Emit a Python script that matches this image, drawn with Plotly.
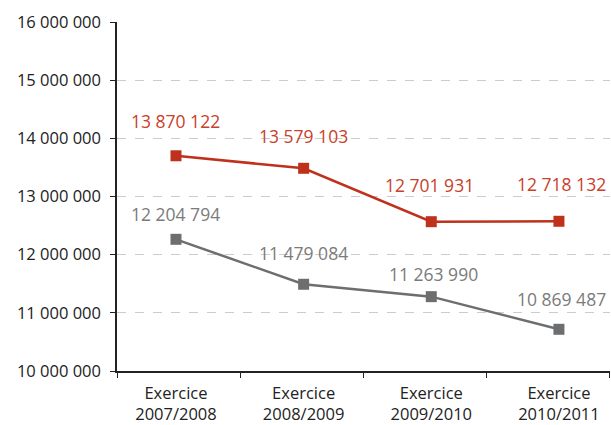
import plotly.graph_objects as go

categories = ["Exercice<br>2007/2008", "Exercice<br>2008/2009", "Exercice<br>2009/2010", "Exercice<br>2010/2011"]
red_values = [13700000, 13485000, 12567000, 12574000]
gray_values = [12264000, 11491000, 11278000, 10717000]
red_labels = ["13 870 122", "13 579 103", "12 701 931", "12 718 132"]
gray_labels = ["12 204 794", "11 479 084", "11 263 990", "10 869 487"]
y_ticks = [10000000, 11000000, 12000000, 13000000, 14000000, 15000000, 16000000]

RED = "#BF311C"
GRAY = "#6D6E70"
FONT = "Open Sans"

xs = list(range(len(categories)))

fig = go.Figure()
fig.add_trace(go.Scatter(x=xs, y=red_values, mode="lines+markers",
                         line=dict(color=RED, width=2.5),
                         marker=dict(symbol="square", size=11, color=RED),
                         hoverinfo="skip"))
fig.add_trace(go.Scatter(x=xs, y=gray_values, mode="lines+markers",
                         line=dict(color=GRAY, width=2.5),
                         marker=dict(symbol="square", size=11, color=GRAY),
                         hoverinfo="skip"))

red_shift = [35, 32, 37, 37]
gray_shift = [25, 31, 23, 30]
gray_dx = [0, 0, 2, 3]
red_dx = [0, 0, -2, 3]
annotations = []
for i, (v, t) in enumerate(zip(red_values, red_labels)):
    annotations.append(dict(x=xs[i], y=v, text=t, showarrow=False, yshift=red_shift[i],
                            xshift=red_dx[i], font=dict(family=FONT, size=17.5, color="#C8412B")))
for i, (v, t) in enumerate(zip(gray_values, gray_labels)):
    annotations.append(dict(x=xs[i], y=v, text=t, showarrow=False, yshift=gray_shift[i],
                            xshift=gray_dx[i], font=dict(family=FONT, size=17.5, color="#7B7B7B")))

fig.update_layout(
    width=611, height=425,
    margin=dict(l=117, r=1, t=22, b=54),
    paper_bgcolor="white", plot_bgcolor="white",
    showlegend=False,
    separators=", ",
    font=dict(family=FONT, size=17, color="#222222"),
    annotations=annotations,
    xaxis=dict(
        range=[-0.462, 3.40], automargin=False,
        tickvals=xs, ticktext=categories,
        ticks="", showgrid=False, zeroline=False,
        showline=True, linecolor="#222222", linewidth=1.5,
        tickfont=dict(family=FONT, size=16.5, color="#222222"),
        ticklabelstandoff=6,
        minor=dict(tick0=-0.462, dtick=0.965, ticks="outside", ticklen=5,
                   tickcolor="#222222", showgrid=False),
    ),
    yaxis=dict(
        range=[10000000, 16000000], automargin=False,
        tickvals=y_ticks, tickformat=",d",
        ticks="outside", ticklen=5, tickcolor="#222222",
        showline=True, linecolor="#222222", linewidth=1.5,
        showgrid=True, gridcolor="#CCCCCC", griddash="dash", gridwidth=1,
        zeroline=False,
        ticklabelstandoff=6,
        tickfont=dict(family=FONT, size=16.5, color="#222222"),
    ),
)

fig.write_html("out.html", config={"displayModeBar": False},
               post_script="document.body.style.margin='0';document.documentElement.style.overflow='hidden';")
